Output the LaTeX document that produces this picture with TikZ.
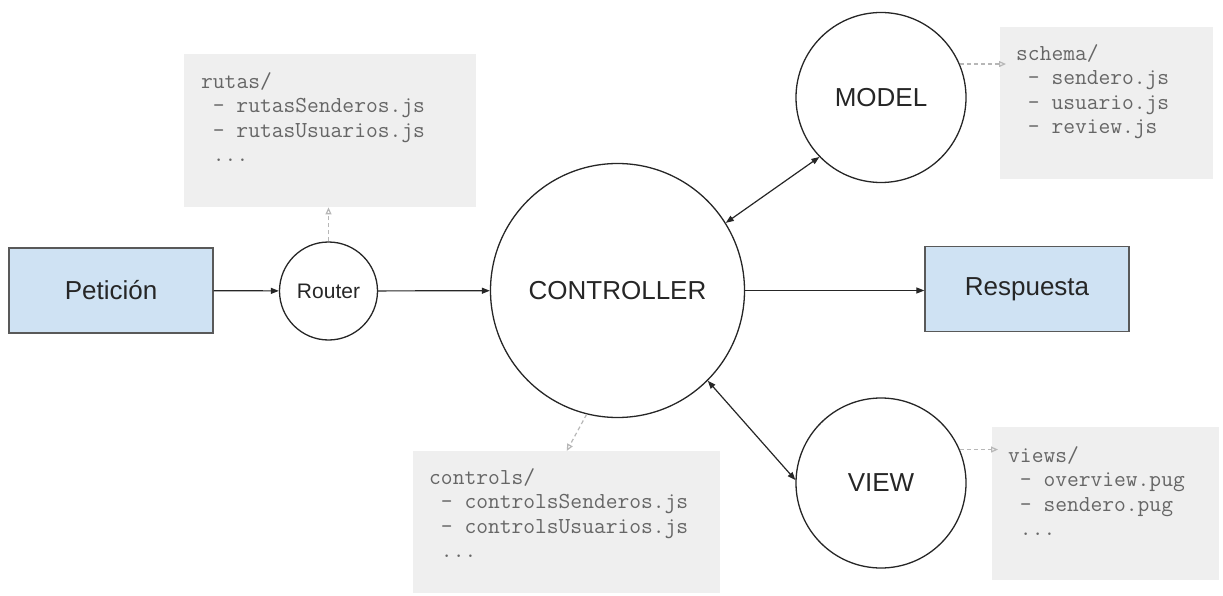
\documentclass[tikz,border=0pt]{standalone}
\usepackage{fontspec}
\setmainfont{Liberation Sans}
\usetikzlibrary{arrows.meta,calc}
\definecolor{boxblue}{HTML}{CFE2F3}
\definecolor{boxgray}{HTML}{EFEFEF}
\definecolor{edgegray}{HTML}{595959}
\definecolor{codegray}{HTML}{666666}
\definecolor{dashgray}{HTML}{B7B7B7}
\definecolor{ink}{HTML}{262626}
\begin{document}
\begin{tikzpicture}[x=1pt,y=-1pt,
 endbox/.style={draw=edgegray,line width=1.3pt,fill=boxblue,minimum width=204pt,minimum height=85pt,inner sep=0pt,font=\fontsize{26}{30}\selectfont,text=ink},
 bubble/.style={circle,draw=black!85,line width=1.3pt,inner sep=0pt,font=\fontsize{26}{30}\selectfont,text=ink},
 codebox/.style={fill=boxgray,inner sep=0pt,anchor=north west},
 codetext/.style={anchor=north west,inner sep=0pt,align=left,text=codegray,font=\ttfamily\fontsize{22.86}{24.5}\selectfont},
 flow/.style={draw=black!85,line width=1.2pt,-{Triangle[length=8pt,width=6pt]}},
 both/.style={flow,{Triangle[length=8pt,width=6pt]}-{Triangle[length=8pt,width=6pt]}},
 dep/.style={draw=dashgray,line width=1.2pt,dash pattern=on 4pt off 3pt,-{Triangle[open,length=7pt,width=6pt]}}
]
\useasboundingbox (0,0) rectangle (1223,596);

% code boxes
\node[codebox,minimum width=292pt,minimum height=153pt] (rutas) at (184,54) {};
\node[codetext] (rutasTxt) at ($(rutas.north west)+(17,17)$)
  {\strut rutas/\\ ~- rutasSenderos.js\\ ~- rutasUsuarios.js\\ ~...};
\node[codebox,minimum width=213pt,minimum height=152pt] (schema) at (1000,27) {};
\node[codetext] (schemaTxt) at ($(schema.north west)+(16,16)$)
  {\strut schema/\\ ~- sendero.js\\ ~- usuario.js\\ ~- review.js};
\node[codebox,minimum width=307pt,minimum height=142pt] (controls) at (413,451) {};
\node[codetext] (controlsTxt) at ($(controls.north west)+(16,16)$)
  {\strut controls/\\ ~- controlsSenderos.js\\ ~- controlsUsuarios.js\\ ~...};
\node[codebox,minimum width=227pt,minimum height=153pt] (views) at (992,427) {};
\node[codetext] (viewsTxt) at ($(views.north west)+(16,18)$)
  {\strut views/\\ ~- overview.pug\\ ~- sendero.pug\\ ~...};

% main nodes
\node[endbox] (pet) at (111,290.5) {Petición};
\node[bubble,minimum size=98pt,font=\fontsize{21}{25}\selectfont] (router) at (328.5,291) {Router};
\node[bubble,minimum size=254pt] (ctrl) at (617.5,290.5) {CONTROLLER};
\node[bubble,minimum size=170pt] (model) at (881,97.5) {MODEL};
\node[bubble,minimum size=170pt] (view) at (881,483) {VIEW};
\node[endbox] (resp) at (1027,289) {Respuesta};

% dependency arrows
\draw[dep] (router.north) -- (router.north |- rutas.south);
\draw[dep] (ctrl.256) -- (controls.north);
\draw[dep] (model.23) -- ($(model.23 -| schema.west)+(6,0)$);
\draw[dep] (view.23) -- ($(view.23 -| views.west)+(6,0)$);

% flow arrows
\draw[flow] (pet) -- (router);
\draw[flow] (router) -- (ctrl);
\draw[flow] (ctrl.east) -- (ctrl.east -| resp.west);
\draw[both] (ctrl.32) -- (model.224);
\draw[both] (ctrl.-45) -- (view.178);
\end{tikzpicture}
\end{document}
